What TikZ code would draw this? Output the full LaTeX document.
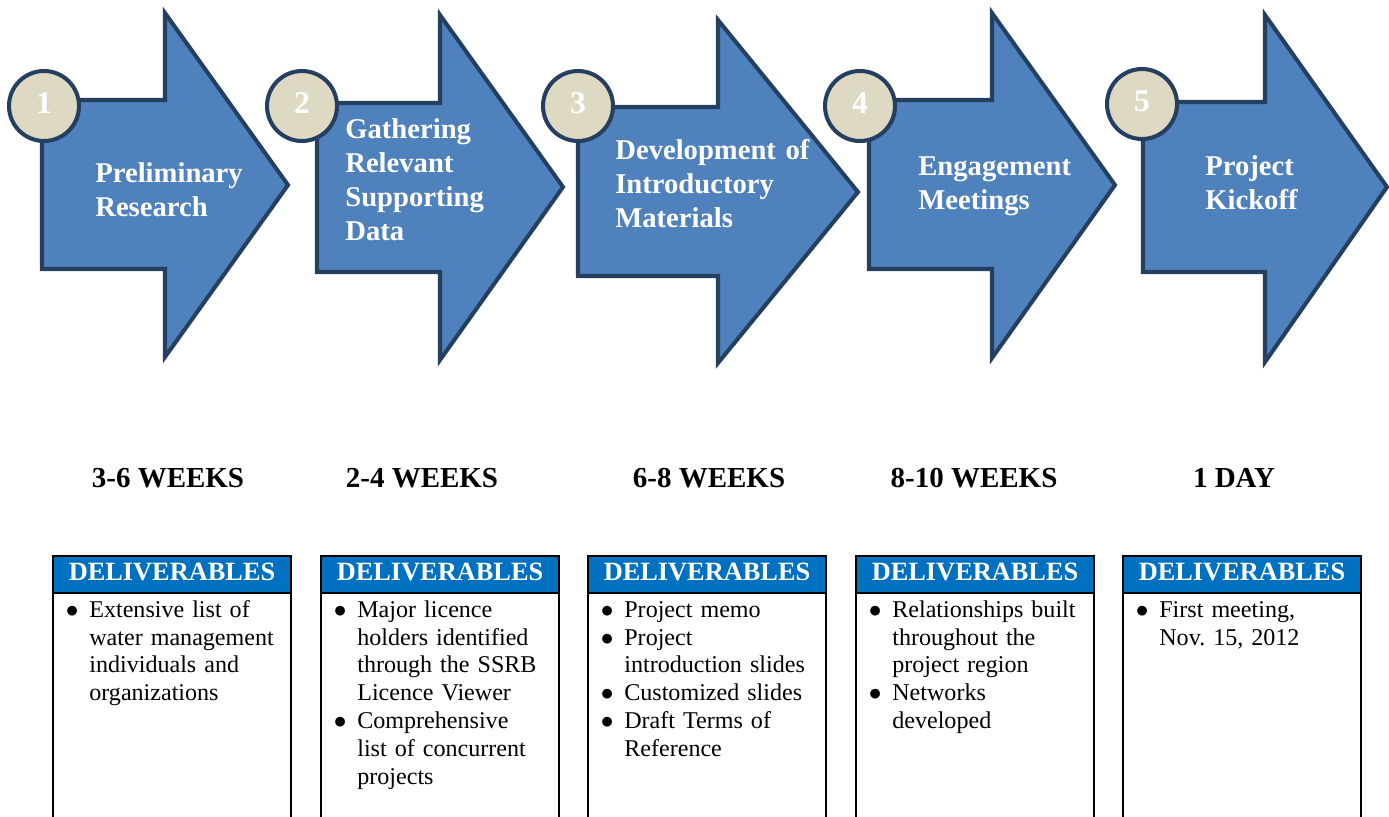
\documentclass[tikz,border=0pt]{standalone}
\usepackage{fontspec}
\setmainfont{Liberation Serif}
\usepackage{tikz}
\definecolor{arrowblue}{HTML}{4F81BD}
\definecolor{arrowedge}{HTML}{243F60}
\definecolor{numtan}{HTML}{DDD9C3}
\definecolor{headblue}{HTML}{0070C0}
\frenchspacing

% one bullet line of a deliverables list
\newcommand{\dlitem}[1]{\noindent\hangindent=0.44cm\hangafter=1\makebox[0.44cm][l]{\hspace{-0.03cm}$\bullet$}#1\par}

\tikzset{
    stagearrow/.style={fill=arrowblue,draw=arrowedge,line width=2.3pt,line join=miter},
    stagenum/.style={circle,fill=numtan,draw=arrowedge,line width=2.3pt,minimum size=1.4cm,inner sep=0pt,
                     text height=0.44cm,text depth=0.16cm,
                     text=white,font=\fontsize{18}{21}\selectfont\bfseries},
    stagetext/.style={anchor=base west,text width=4.6cm,align=left,inner sep=0pt,text=white,
                      font=\fontsize{16.3}{19.35}\selectfont\bfseries},
    timetext/.style={anchor=base,inner sep=0pt,font=\fontsize{16.5}{19}\selectfont\bfseries},
    delivbox/.style={draw=black,line width=1.2pt,anchor=north west,minimum width=4.76cm,minimum height=5.5cm,inner sep=0pt},
    delivhead/.style={draw=black,line width=1.2pt,fill=headblue,anchor=north west,minimum width=4.76cm,
                      minimum height=0.74cm,inner sep=0pt,text height=0.34cm,text depth=0.12cm,
                      text=white,font=\fontsize{15}{18}\selectfont\bfseries},
    delivtext/.style={anchor=base west,text width=4.5cm,align=left,inner sep=0pt,font=\fontsize{13.7}{15.93}\selectfont}
}

\begin{document}
\begin{tikzpicture}[x=0.02cm,y=-0.02cm]
                        \useasboundingbox (0,0) rectangle (1389,816);
                        \clip (0,0) rectangle (1389,816);

                        % the five stage arrows
                        \draw[stagearrow] (42,100) -- (165,100) -- (165,13) -- (288,185) -- (165,357) -- (165,269) -- (42,269) -- cycle;
                        \draw[stagearrow] (317,103) -- (440,103) -- (440,15) -- (563,187) -- (440,360) -- (440,272) -- (317,272) -- cycle;
                        \draw[stagearrow] (578,107) -- (718,107) -- (718,20) -- (858,192) -- (718,363) -- (718,276) -- (578,276) -- cycle;
                        \draw[stagearrow] (869,100) -- (992,100) -- (992,13) -- (1115,185) -- (992,358) -- (992,269) -- (869,269) -- cycle;
                        \draw[stagearrow] (1143,102) -- (1265,102) -- (1265,15) -- (1387,187) -- (1265,362) -- (1265,272) -- (1143,272) -- cycle;

                        % numbered circles
                        \node[stagenum] (num1) at (44,106) {1};
                        \node[stagenum] (num2) at (302,106) {2};
                        \node[stagenum] (num3) at (578,106) {3};
                        \node[stagenum] (num4) at (860,106) {4};
                        \node[stagenum] (num5) at (1142,104) {5};

                        % stage names
                        \node[stagetext] (stage1) at (95,182) {Preliminary\\Research};
                        \node[stagetext] (stage2) at (345,138) {Gathering\\Relevant\\Supporting\\Data};
                        \node[stagetext] (stage3) at (615,159) {Development of\\Introductory\\Materials};
                        \node[stagetext] (stage4) at (918,175) {Engagement\\Meetings};
                        \node[stagetext] (stage5) at (1205,175) {Project\\Kickoff};

                        % durations
                        \node[timetext] (time1) at (168,487) {3-6 WEEKS};
                        \node[timetext] (time2) at (422,487) {2-4 WEEKS};
                        \node[timetext] (time3) at (709,487) {6-8 WEEKS};
                        \node[timetext] (time4) at (974,487) {8-10 WEEKS};
                        \node[timetext] (time5) at (1234,487) {1 DAY};

                        % deliverables boxes
                        \node[delivbox] (box1) at (52,555) {};
                        \node[delivbox] (box2) at (320,555) {};
                        \node[delivbox] (box3) at (587,555) {};
                        \node[delivbox] (box4) at (855,555) {};
                        \node[delivbox] (box5) at (1122,555) {};

                        \node[delivhead] (head1) at (box1.north west) {DELIVERABLES};
                        \node[delivhead] (head2) at (box2.north west) {DELIVERABLES};
                        \node[delivhead] (head3) at (box3.north west) {DELIVERABLES};
                        \node[delivhead] (head4) at (box4.north west) {DELIVERABLES};
                        \node[delivhead] (head5) at (box5.north west) {DELIVERABLES};

                        \node[delivtext] (list1) at (67,617) {\dlitem{Extensive list of\newline water management\newline individuals and\newline organizations}};
                        \node[delivtext] (list2) at (335,617) {\dlitem{Major licence\newline holders identified\newline through the SSRB\newline Licence Viewer}
                                                                \dlitem{Comprehensive\newline list of concurrent\newline projects}};
                        \node[delivtext] (list3) at (602,617) {\dlitem{Project memo}
                                                                \dlitem{Project\newline introduction slides}
                                                                \dlitem{Customized slides}
                                                                \dlitem{Draft Terms of\newline Reference}};
                        \node[delivtext] (list4) at (870,617) {\dlitem{Relationships built\newline throughout the\newline project region}
                                                                \dlitem{Networks\newline developed}};
                        \node[delivtext] (list5) at (1137,617) {\dlitem{First meeting,\newline Nov. 15, 2012}};
                    \end{tikzpicture}
\end{document}
